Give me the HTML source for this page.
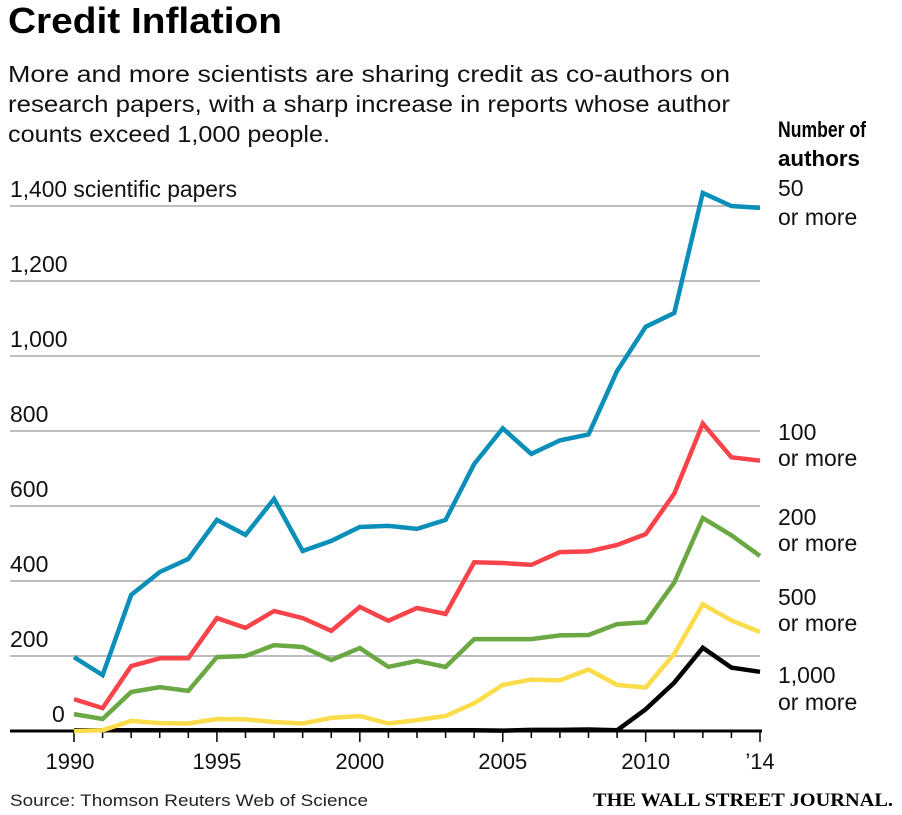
<!DOCTYPE html>
<html><head><meta charset="utf-8"><style>
body{margin:0;background:#fff}
svg{display:block;font-family:"Liberation Sans",sans-serif}
</style></head><body>
<svg id="chart" width="902" height="815" viewBox="0 0 902 815">
<text x="8" y="33" font-size="36" font-weight="bold" textLength="274" lengthAdjust="spacingAndGlyphs">Credit Inflation</text>
<g font-size="23" fill="#111">
<text x="8" y="82" textLength="722" lengthAdjust="spacingAndGlyphs">More and more scientists are sharing credit as co-authors on</text>
<text x="8" y="112" textLength="722" lengthAdjust="spacingAndGlyphs">research papers, with a sharp increase in reports whose author</text>
<text x="8" y="142" textLength="322" lengthAdjust="spacingAndGlyphs">counts exceed 1,000 people.</text>
</g>
<g font-size="22" font-weight="bold">
<text x="778" y="137" textLength="88" lengthAdjust="spacingAndGlyphs">Number of</text>
<text x="778" y="166" textLength="82" lengthAdjust="spacingAndGlyphs">authors</text>
</g>
<g id="grid"></g><g id="axis"></g><g id="lines"></g><g id="labels"></g>
<text x="10" y="806" font-size="17" fill="#222" textLength="358" lengthAdjust="spacingAndGlyphs">Source: Thomson Reuters Web of Science</text>
<text x="893" y="806" text-anchor="end" font-family="'Liberation Serif',serif" font-size="19" font-weight="bold" textLength="300" lengthAdjust="spacingAndGlyphs">THE WALL STREET JOURNAL.</text>
</svg>
<script>
const years=[1990,1991,1992,1993,1994,1995,1996,1997,1998,1999,2000,2001,2002,2003,2004,2005,2006,2007,2008,2009,2010,2011,2012,2013,2014];
const s50=[197,149,363,424,459,563,523,619,480,507,544,547,539,563,712,807,739,775,791,960,1078,1115,1435,1400,1395];
const s100=[85,61,173,194,194,301,275,320,301,267,331,294,328,312,450,448,443,477,479,496,525,633,820,730,721];
const s200=[45,32,104,117,107,197,200,229,224,189,221,171,187,171,245,245,245,255,256,285,290,396,568,522,467];
const s500=[0,2,27,21,20,32,31,24,20,35,40,20,29,40,74,123,137,135,164,123,116,206,338,295,264];
const s1000=[2,2,2,2,2,2,2,2,2,2,2,2,2,2,2,1,3,3,4,2,58,129,222,169,158];
const yTicks=[0,200,400,600,800,1000,1200,1400];
const yTickLabels=["0","200","400","600","800","1,000","1,200","1,400 scientific papers"];
const xTicks=[1990,1995,2000,2005,2010,2014];
const xTickLabels=["1990","1995","2000","2005","2010","’14"];
const seriesNames=["50 or more","100 or more","200 or more","500 or more","1,000 or more"];
const seriesLabelTop=["50","100","200","500","1,000"];
const NS="http://www.w3.org/2000/svg";
const X=y=>74+(y-1990)*(760-74)/24;
const Y=v=>731-v*0.375;
function mk(tag,attrs,parent){const e=document.createElementNS(NS,tag);for(const k in attrs)e.setAttribute(k,attrs[k]);parent.appendChild(e);return e;}
const grid=document.getElementById('grid'),axis=document.getElementById('axis'),lines=document.getElementById('lines'),labels=document.getElementById('labels');
yTicks.forEach((v,i)=>{
  if(v>0){const l=mk('line',{x1:10,x2:760,y1:Y(v),y2:Y(v),stroke:'#bdbdbd','stroke-width':2},grid);
  
  }
  const t=mk('text',{x:i===0?52:10,y:Y(v)-9,'font-size':23,fill:'#111'},grid);
  
  
  if(i===yTicks.length-1){t.setAttribute('textLength','227');t.setAttribute('lengthAdjust','spacingAndGlyphs');}
  t.textContent=yTickLabels[i];
});
const ax=mk('line',{x1:10,x2:762,y1:731,y2:731,stroke:'#000','stroke-width':3},axis);


years.forEach(y=>{const t=mk('line',{x1:X(y),x2:X(y),y1:731,y2:(y%5===0||y===2014)?742:738,stroke:'#000','stroke-width':1.5},axis);
  
  });
xTicks.forEach((y,i)=>{const t=mk('text',{x:i===0?70:X(y),y:769,'font-size':22,'text-anchor':'middle',fill:'#111'},axis);
  
  
  t.textContent=xTickLabels[i];});
const series=[s50,s100,s200,s500,s1000];
const colors=['#0a8fb8','#f8434a','#6aa843','#fbdc4a','#000'];
const order=[4,3,2,1,0];
order.forEach(i=>{
  const d=series[i].map((v,j)=>(j?'L':'M')+X(years[j]).toFixed(1)+','+Y(v).toFixed(1)).join(' ');
  const p=mk('path',{d:d,fill:'none',stroke:colors[i],'stroke-width':4.5,'stroke-linejoin':'miter'},lines);
  
  
});
const labY=[[196,225],[440,466],[525,551],[605,631],[683,710]];
seriesNames.forEach((n,i)=>{
  const g=mk('g',{'font-size':23,fill:'#111'},labels);
  
  
  const a=mk('text',{x:778,y:labY[i][0]},g);a.textContent=seriesLabelTop[i];
  const b=mk('text',{x:778,y:labY[i][1]},g);b.textContent='or more';
});
</script>
</body></html>
